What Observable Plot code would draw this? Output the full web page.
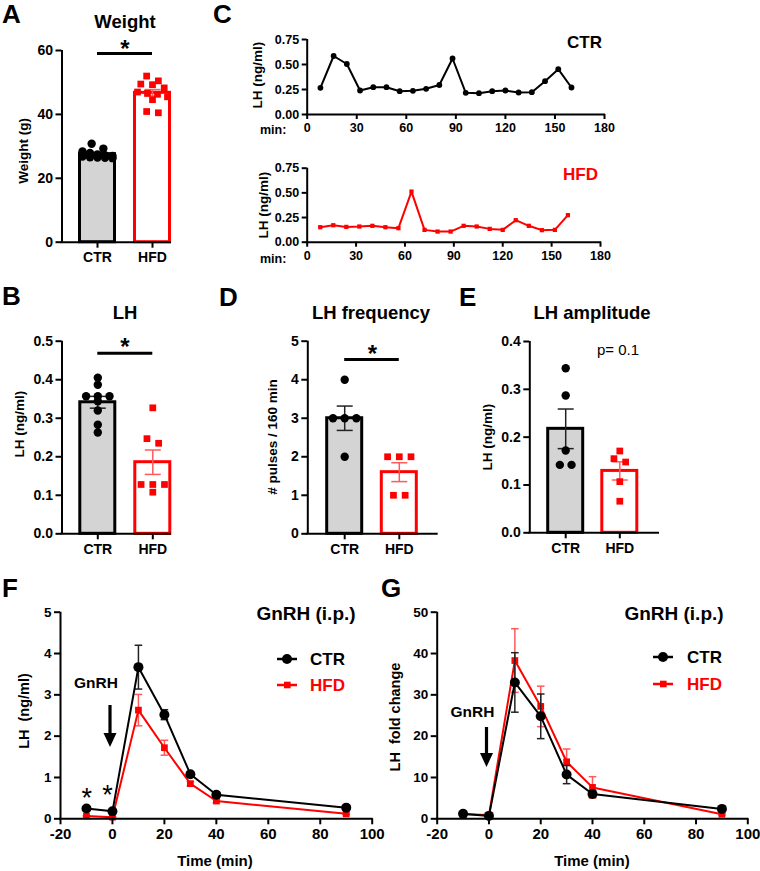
<!DOCTYPE html>
<html><head><meta charset="utf-8">
<script src="https://cdn.jsdelivr.net/npm/d3@7"></script>
<script src="https://cdn.jsdelivr.net/npm/@observablehq/plot@0.6"></script>
<style>
body{margin:0;background:#fff;}
#fig{position:relative;width:760px;height:871px;overflow:hidden;}
#fig svg{position:absolute;left:0;top:0;overflow:visible;background:transparent;}
</style></head><body><div id="fig"></div>
<script>
// ---------------- DATA ----------------
const groups = ["CTR", "HFD"];
// Panel A: body weight (g)
const weightCTR = [30.8, 29.3, 28.4, 27.9, 27.5, 27.2, 27.0, 26.8, 26.6, 26.5, 26.4, 26.3];
const weightHFD = [52.0, 50.5, 49.5, 49.3, 48.3, 47.0, 46.6, 46.3, 45.5, 44.6, 40.9, 40.5];
// Panel B: LH (ng/ml)
const lhCTR = [0.405, 0.387, 0.357, 0.357, 0.357, 0.344, 0.320, 0.283, 0.263];
const lhHFD = [0.327, 0.247, 0.235, 0.128, 0.128, 0.128, 0.108];
// Panel D: LH pulse frequency
const freqCTR = [4, 3, 3, 3, 2];
const freqHFD = [2, 2, 2, 1, 1];
// Panel E: LH amplitude
const ampCTR = [0.344, 0.287, 0.172, 0.142, 0.142];
const ampHFD = [0.171, 0.155, 0.148, 0.107, 0.066];
// Panel C: pulsatile LH profiles
const pulseTimes = [8, 16, 24, 32, 40, 48, 56, 64, 72, 80, 88, 96, 104, 112, 120, 128, 136, 144, 152, 160];
const pulseCTR = [0.267, 0.585, 0.505, 0.240, 0.273, 0.273, 0.233, 0.237, 0.257, 0.295, 0.560, 0.217, 0.213, 0.233, 0.240, 0.220, 0.223, 0.333, 0.453, 0.270];
const pulseHFD = [0.152, 0.172, 0.155, 0.159, 0.166, 0.152, 0.142, 0.513, 0.125, 0.108, 0.108, 0.166, 0.159, 0.135, 0.125, 0.223, 0.166, 0.122, 0.125, 0.274];
const pulseTicks = [0, 30, 60, 90, 120, 150, 180];
const pulseYTicks = [0, 0.25, 0.5, 0.75];
// Panels F, G: GnRH test
const gnrhTimes = [-10, 0, 10, 20, 30, 40, 90];
const lhMeanCTR = [0.25, 0.18, 3.67, 2.52, 1.08, 0.58, 0.27];
const lhSemCTR  = [0.02, 0.02, 0.53, 0.12, 0.05, 0.04, 0.03];
const lhMeanHFD = [0.07, 0.04, 2.63, 1.72, 0.85, 0.43, 0.12];
const lhSemHFD  = [0.01, 0.01, 0.38, 0.18, 0.05, 0.04, 0.02];
const foldMeanCTR = [1.2, 0.7, 33.0, 24.8, 10.7, 6.0, 2.4];
const foldSemCTR  = [0.2, 0.1, 7.2, 5.4, 2.2, 0.8, 0.3];
const foldMeanHFD = [1.1, 0.9, 38.3, 27.2, 13.8, 7.6, 1.1];
const foldSemHFD  = [0.1, 0.1, 7.7, 4.9, 3.1, 2.6, 0.2];
const timeTicks = [-20, 0, 20, 40, 60, 80, 100];

// ---------------- STYLE / LAYOUT ----------------
const FONT = '"Liberation Sans", Arial, Helvetica, sans-serif';
const RED = "#ff0000", RED_ERR = "#ff5a5a", GRAY = "#d4d4d4";
const W = 760, H = 871;
const fig = document.getElementById("fig");

function frame(L) {
  return {width: W, height: H, marginLeft: L.frameL, marginRight: W - L.frameR,
          marginTop: L.yTop, marginBottom: H - L.yBot,
          style: {background: "transparent", overflow: "visible", fontFamily: FONT, fontWeight: "bold", color: "black"}};
}

function swarm(vals, ppu, thr = 5, step = 11.7, maxSpan = 30) {
  const order = d3.range(vals.length).sort((a, b) => d3.descending(vals[a], vals[b]));
  const off = new Array(vals.length).fill(0);
  let row = [];
  const flush = () => {
    const n = row.length, s = n > 1 ? Math.min(step, maxSpan / (n - 1)) : 0;
    row.forEach((idx, j) => off[idx] = (j - (n - 1) / 2) * s);
    row = [];
  };
  for (const i of order) {
    if (row.length && (vals[row[0]] - vals[i]) * ppu >= thr) flush();
    row.push(i);
  }
  flush();
  return off;
}

function barPanel(L, ctr, hfd, yTicks, fmt) {
  const unit = L.c1 - L.c0;
  const xDom = [(L.frameL - L.c0) / unit, (L.frameR - L.c0) / unit];
  const ppu = (L.yBot - L.yTop) / L.yMax;
  const sets = [ctr, hfd];
  const stats = sets.map((v, i) => ({i, mean: d3.mean(v), sem: d3.deviation(v) / Math.sqrt(v.length)}));
  const pts = sets.flatMap((v, i) => { const off = swarm(v, ppu); return v.map((y, k) => ({i, y, x: i + off[k] / unit})); });
  const hw = 17.5 / unit, cw = 8 / unit;
  const caps = stats.flatMap(s => [{i: s.i, y: s.mean - s.sem}, {i: s.i, y: s.mean + s.sem}]);
  const marks = [
    Plot.rect(stats, {filter: d => d.i === 0, x1: d => d.i - hw, x2: d => d.i + hw, y1: 0, y2: "mean", fill: GRAY, stroke: "black", strokeWidth: 3}),
    Plot.rect(stats, {filter: d => d.i === 1, x1: d => d.i - hw, x2: d => d.i + hw, y1: 0, y2: "mean", fill: "white", stroke: RED, strokeWidth: 3}),
    Plot.link(stats, {x1: "i", x2: "i", y1: d => d.mean - d.sem, y2: d => d.mean + d.sem, stroke: d => d.i ? RED_ERR : "#222", strokeWidth: 1.5}),
    Plot.link(caps, {x1: d => d.i - cw, x2: d => d.i + cw, y1: "y", y2: "y", stroke: d => d.i ? RED_ERR : "#222", strokeWidth: 1.5}),
    Plot.dot(pts, {filter: d => d.i === 0, x: "x", y: "y", r: 4.2, fill: "black", symbol: "circle"}),
    Plot.dot(pts, {filter: d => d.i === 1, x: "x", y: "y", r: 3.8, fill: RED, symbol: "square"}),
    Plot.axisY({ticks: yTicks, tickFormat: fmt, tickSize: 6, tickPadding: 3, fontSize: 14, fontWeight: "bold", strokeWidth: 2, label: null}),
    Plot.axisX({ticks: [0, 1], tickFormat: i => groups[i], tickSize: 6, tickPadding: 4, fontSize: 14, fontWeight: "bold", strokeWidth: 2, label: null}),
    Plot.ruleX([xDom[0]], {strokeWidth: 2}),
    Plot.ruleY([0], {strokeWidth: 2, strokeLinecap: "square"})
  ];
  if (L.sigPx != null) marks.push(Plot.ruleY([(L.yBot - L.sigPx) / ppu], {x1: 0, x2: 1, strokeWidth: 3}));
  fig.append(Plot.plot({...frame(L), x: {domain: xDom}, y: {domain: [0, L.yMax]}, marks}));
}

function pulsePanel(L, times, vals, color, symbol, r) {
  const data = times.map((t, k) => ({t, v: vals[k]}));
  fig.append(Plot.plot({...frame(L), x: {domain: [0, 180]}, y: {domain: [0, 0.75]}, marks: [
    Plot.line(data, {x: "t", y: "v", stroke: color, strokeWidth: 2}),
    Plot.dot(data, {x: "t", y: "v", r, fill: color, symbol}),
    Plot.axisY({ticks: pulseYTicks, tickFormat: d3.format(".2f"), tickSize: 5, tickPadding: 3, fontSize: 12.5, fontWeight: "bold", strokeWidth: 2, label: null}),
    Plot.axisX({ticks: pulseTicks, tickFormat: d => String(d), tickSize: 5, tickPadding: 4, fontSize: 12.5, fontWeight: "bold", strokeWidth: 2, label: null}),
    Plot.ruleX([0], {strokeWidth: 2}),
    Plot.ruleY([0], {strokeWidth: 2, strokeLinecap: "square"})
  ]}));
}

function timePanel(L, yMax, yTicks, series) {
  const unit = (L.frameR - L.frameL) / 120;
  const cw = 3.8 / unit;
  const marks = [];
  for (const s of series) {
    const data = gnrhTimes.map((t, k) => ({t, m: s.mean[k], e: s.sem[k]}));
    const caps = data.flatMap(d => [{t: d.t, y: d.m - d.e}, {t: d.t, y: d.m + d.e}]);
    marks.push(
      Plot.link(data, {x1: "t", x2: "t", y1: d => d.m - d.e, y2: d => d.m + d.e, stroke: s.err, strokeWidth: 1.5}),
      Plot.link(caps, {x1: d => d.t - cw, x2: d => d.t + cw, y1: "y", y2: "y", stroke: s.err, strokeWidth: 1.5}),
      Plot.line(data, {x: "t", y: "m", stroke: s.color, strokeWidth: 2}),
      Plot.dot(data, {x: "t", y: "m", r: s.r, fill: s.color, symbol: s.symbol})
    );
  }
  marks.push(
    Plot.axisY({ticks: yTicks, tickFormat: d => String(d), tickSize: 6, tickPadding: 3, fontSize: 13.5, fontWeight: "bold", strokeWidth: 2, label: null}),
    Plot.axisX({ticks: timeTicks, tickFormat: d => String(d), tickSize: 6, tickPadding: 4, fontSize: 15, fontWeight: "bold", strokeWidth: 2, label: null}),
    Plot.ruleX([-20], {strokeWidth: 2}),
    Plot.ruleY([0], {strokeWidth: 2, strokeLinecap: "square"})
  );
  fig.append(Plot.plot({...frame(L), x: {domain: [-20, 100]}, y: {domain: [0, yMax]}, marks}));
}

// ---------------- PANELS ----------------
barPanel({frameL: 61.5, frameR: 170, c0: 97, c1: 152, yTop: 50, yBot: 241.7, yMax: 60, sigPx: 53},
  weightCTR, weightHFD, [0, 20, 40, 60], d3.format("d"));
barPanel({frameL: 61.5, frameR: 170, c0: 97.3, c1: 152.3, yTop: 340.7, yBot: 533.3, yMax: 0.5, sigPx: 352.7},
  lhCTR, lhHFD, [0, 0.1, 0.2, 0.3, 0.4, 0.5], d3.format(".1f"));
barPanel({frameL: 307.3, frameR: 436.7, c0: 344.2, c1: 398.8, yTop: 340.7, yBot: 533.3, yMax: 5, sigPx: 359},
  freqCTR, freqHFD, [0, 1, 2, 3, 4, 5], d3.format("d"));
barPanel({frameL: 529.3, frameR: 658, c0: 565.2, c1: 619.3, yTop: 341, yBot: 532.3, yMax: 0.4, sigPx: null},
  ampCTR, ampHFD, [0, 0.1, 0.2, 0.3, 0.4], d3.format(".1f"));

pulsePanel({frameL: 306.7, frameR: 604, yTop: 39, yBot: 114}, pulseTimes, pulseCTR, "black", "circle", 2.9);
pulsePanel({frameL: 306.7, frameR: 600, yTop: 167.7, yBot: 241.7}, pulseTimes, pulseHFD, RED, "square", 2.4);

timePanel({frameL: 60, frameR: 371.7, yTop: 611.7, yBot: 818.3}, 5, [0, 1, 2, 3, 4, 5], [
  {mean: lhMeanHFD, sem: lhSemHFD, color: RED, err: RED_ERR, symbol: "square", r: 3.8},
  {mean: lhMeanCTR, sem: lhSemCTR, color: "black", err: "#222", symbol: "circle", r: 5}
]);
timePanel({frameL: 436.7, frameR: 747.3, yTop: 611.7, yBot: 818.3}, 50, [0, 10, 20, 30, 40, 50], [
  {mean: foldMeanHFD, sem: foldSemHFD, color: RED, err: RED_ERR, symbol: "square", r: 3.8},
  {mean: foldMeanCTR, sem: foldSemCTR, color: "black", err: "#222", symbol: "circle", r: 5}
]);

// ---------------- ANNOTATIONS ----------------
const texts = [
  {t: "A", x: 2, y: 23, s: 26}, {t: "B", x: 2, y: 305, s: 26}, {t: "C", x: 213, y: 23, s: 26},
  {t: "D", x: 219, y: 306, s: 26}, {t: "E", x: 459, y: 306, s: 26},
  {t: "F", x: 2, y: 597, s: 26}, {t: "G", x: 381, y: 597, s: 26},
  {t: "Weight", x: 125, y: 28, s: 18.5, a: "middle"},
  {t: "LH", x: 125, y: 319, s: 18.5, a: "middle"},
  {t: "LH frequency", x: 371, y: 318.5, s: 18.5, a: "middle"},
  {t: "LH amplitude", x: 592, y: 318.5, s: 18.5, a: "middle"},
  {t: "*", x: 125, y: 57, s: 24, a: "middle"},
  {t: "*", x: 125, y: 355, s: 24, a: "middle"},
  {t: "*", x: 372.5, y: 362, s: 24, a: "middle"},
  {t: "p= 0.1", x: 618, y: 355, s: 15, a: "middle", w: "normal"},
  {t: "Weight (g)", x: 28, y: 151, s: 13.5, rot: true},
  {t: "LH (ng/ml)", x: 24, y: 424, s: 13.5, rot: true},
  {t: "LH (ng/ml)", x: 262, y: 75, s: 13.5, rot: true},
  {t: "LH (ng/ml)", x: 268, y: 205, s: 13.5, rot: true},
  {t: "# pulses / 160 min", x: 277, y: 437, s: 13.5, rot: true},
  {t: "LH (ng/ml)", x: 492, y: 437, s: 13.5, rot: true},
  {t: "LH  (ng/ml)", x: 29, y: 711, s: 14.5, rot: true},
  {t: "LH  fold change", x: 400, y: 717, s: 14.5, rot: true},
  {t: "min:", x: 260, y: 133.5, s: 12.5}, {t: "min:", x: 260, y: 263, s: 12.5},
  {t: "CTR", x: 567, y: 48, s: 17}, {t: "HFD", x: 563, y: 180, s: 17, c: RED},
  {t: "Time (min)", x: 215, y: 866, s: 15, a: "middle"},
  {t: "Time (min)", x: 592, y: 866, s: 15, a: "middle"},
  {t: "GnRH (i.p.)", x: 306, y: 620, s: 19, a: "middle"},
  {t: "GnRH (i.p.)", x: 674, y: 620, s: 19, a: "middle"},
  {t: "GnRH", x: 96, y: 688, s: 15.5, a: "middle"},
  {t: "GnRH", x: 472.5, y: 717, s: 15.5, a: "middle"},
  {t: "*", x: 86.7, y: 807, s: 27, a: "middle", w: "normal"},
  {t: "*", x: 107.5, y: 804, s: 27, a: "middle", w: "normal"}
];
const legends = [
  {x0: 277, y: 659, label: "CTR", color: "black", sym: "circle", tx: 310},
  {x0: 277, y: 685, label: "HFD", color: RED, sym: "square", tx: 310},
  {x0: 653, y: 657, label: "CTR", color: "black", sym: "circle", tx: 687},
  {x0: 653, y: 684, label: "HFD", color: RED, sym: "square", tx: 687}
];
const arrows = [{x: 110, y0: 705, y1: 747}, {x: 486.5, y0: 727, y1: 767}];

const ov = d3.create("svg").attr("width", W).attr("height", H).attr("font-family", FONT);
for (const s of texts) {
  const el = ov.append("text").attr("x", s.x).attr("y", s.y).attr("font-size", s.s)
    .attr("font-weight", s.w || "bold").attr("fill", s.c || "black").style("white-space", "pre")
    .attr("text-anchor", s.rot ? "middle" : (s.a || "start")).text(s.t);
  if (s.rot) el.attr("transform", `rotate(-90 ${s.x} ${s.y})`);
}
for (const l of legends) {
  ov.append("line").attr("x1", l.x0).attr("x2", l.x0 + 20).attr("y1", l.y).attr("y2", l.y).attr("stroke", l.color).attr("stroke-width", 2.5);
  if (l.sym === "circle") ov.append("circle").attr("cx", l.x0 + 10).attr("cy", l.y).attr("r", 5).attr("fill", l.color);
  else ov.append("rect").attr("x", l.x0 + 7).attr("y", l.y - 3.3).attr("width", 6.6).attr("height", 6.6).attr("fill", l.color);
  ov.append("text").attr("x", l.tx).attr("y", l.y + 6.2).attr("font-size", 17).attr("font-weight", "bold").attr("fill", l.color).text(l.label);
}
for (const a of arrows) {
  ov.append("line").attr("x1", a.x).attr("x2", a.x).attr("y1", a.y0).attr("y2", a.y1 - 12).attr("stroke", "black").attr("stroke-width", 3.2);
  ov.append("path").attr("d", `M${a.x - 6.5},${a.y1 - 14}L${a.x + 6.5},${a.y1 - 14}L${a.x},${a.y1}Z`).attr("fill", "black");
}
fig.append(ov.node());
</script></body></html>
